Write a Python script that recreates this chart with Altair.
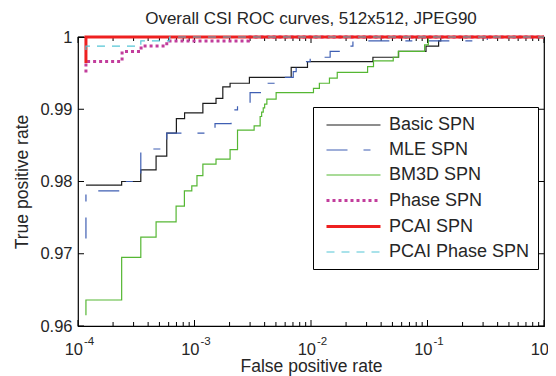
import altair as alt
import pandas as pd

# ---------------- data ----------------
series_names = ["Basic SPN", "MLE SPN", "BM3D SPN", "Phase SPN", "PCAI SPN", "PCAI Phase SPN"]

basic_fpr = [1.17e-4, 2.37e-4, 3.46e-4, 4.68e-4, 5.78e-4, 6.99e-4, 8.22e-4, 1.18e-3, 1.53e-3,
             1.75e-3, 2.02e-3, 2.96e-3, 6.76e-3, 9.33e-3, 0.0340, 0.0565, 0.0971, 0.1246, 0.130, 1.0]
basic_tpr = [0.9795, 0.9800, 0.9816, 0.9835, 0.9867, 0.9887, 0.9895, 0.9908, 0.9915,
             0.9931, 0.9936, 0.9944, 0.9958, 0.9966, 0.9972, 0.9980, 0.99875, 0.99945, 1.0, 1.0]

mle_fpr = [1.17e-4, 1.17e-4, 2.37e-4, 3.46e-4, 5.78e-4, 1.26e-3, 1.50e-3, 2.06e-3, 2.34e-3, 3.00e-3,
           3.89e-3, 5.16e-3, 7.04e-3, 7.46e-3, 8.92e-3, 9.84e-3, 0.0146, 0.0197, 0.0229, 0.326, 1.0]
mle_tpr = [0.9721, 0.9787, 0.9800, 0.9845, 0.9867, 0.9872, 0.9880, 0.9899, 0.9908, 0.9923,
           0.9936, 0.9944, 0.9952, 0.9959, 0.9966, 0.9972, 0.9980, 0.99875, 0.99945, 1.0, 1.0]

bm3d_fpr = [1.17e-4, 1.17e-4, 2.37e-4, 3.46e-4, 4.68e-4, 6.95e-4, 8.19e-4, 9.48e-4, 1.05e-3, 1.18e-3,
            1.53e-3, 2.02e-3, 2.34e-3, 3.25e-3, 3.66e-3, 3.77e-3, 3.89e-3, 4.00e-3, 4.18e-3, 5.02e-3,
            0.0105, 0.0118, 0.0144, 0.0168, 0.0306, 0.0344, 0.0508, 0.0561, 0.0944, 0.1016, 1.0]
bm3d_tpr = [0.9615, 0.9636, 0.9695, 0.9723, 0.9744, 0.9766, 0.9787, 0.9794, 0.9808, 0.9824,
            0.9831, 0.9844, 0.9871, 0.9877, 0.9890, 0.9896, 0.9902, 0.9907, 0.9914, 0.9923,
            0.9929, 0.9936, 0.9943, 0.9951, 0.9959, 0.9967, 0.9972, 0.9980, 0.9989, 1.0, 1.0]

phase_fpr = [1.17e-4, 1.17e-4, 2.39e-4, 3.48e-4, 5.78e-4, 2.90e-3, 1.0]
phase_tpr = [0.9951, 0.9966, 0.9980, 0.99875, 0.99945, 1.0, 1.0]

pcai_fpr = [1.17e-4, 1.17e-4, 1.0]
pcai_tpr = [0.9964, 1.0, 1.0]

pcai_phase_fpr = [1.17e-4, 1.17e-4, 3.46e-4, 6.1e-4, 1.0]
pcai_phase_tpr = [0.9982, 0.99875, 0.99945, 1.0, 1.0]

x_major_ticks = [1e-4, 1e-3, 1e-2, 1e-1, 1.0]
x_tick_exponents = ["-4", "-3", "-2", "-1", "0"]
x_minor_ticks = [m * 10.0 ** e for e in range(-4, 0) for m in range(2, 10)]
y_ticks = [0.96, 0.97, 0.98, 0.99, 1.0]

# ---------------- styles ----------------
colors = ["#1c1c1c", "#3f5fb3", "#55b733", "#c23d9c", "#ee2020", "#55c6d6"]
dashes = [[1, 0], [21, 16, 7, 16], [1, 0], [3, 3], [1, 0], [8, 7]]
widths = [1.2, 1.2, 1.2, 3.0, 3.0, 1.2]

W, H = 466, 289
FONT = "Liberation Sans"
TXT = "#262626"

all_fpr = [basic_fpr, mle_fpr, bm3d_fpr, phase_fpr, pcai_fpr, pcai_phase_fpr]
all_tpr = [basic_tpr, mle_tpr, bm3d_tpr, phase_tpr, pcai_tpr, pcai_phase_tpr]
rows = []
for name, xs, ys in zip(series_names, all_fpr, all_tpr):
    for i, (xv, yv) in enumerate(zip(xs, ys)):
        rows.append({"series": name, "fpr": xv, "tpr": yv, "idx": i})
df = pd.DataFrame(rows)

xscale = alt.Scale(type="log", domain=[1e-4, 1.0])
yscale = alt.Scale(domain=[0.96, 1.0], zero=False, nice=False)

# legend sample: a 54px horizontal stroke
leg = dict(title=None, orient="none", legendX=235, legendY=70,
           symbolType="M-0.556,0H5.444", symbolSize=324,
           symbolStrokeWidth=alt.ExprRef(expr="scale('strokeWidth', datum.value)"),
           labelFontSize=18, labelFont=FONT, labelColor=TXT,
           strokeColor="black", fillColor="white", padding=8, cornerRadius=0,
           labelOffset=47, labelLimit=400, rowPadding=6)

lines = alt.Chart(df).mark_line(interpolate="step-after", strokeCap="butt").encode(
    x=alt.X("fpr:Q", scale=xscale,
            axis=alt.Axis(labels=False, ticks=False, domain=False, grid=False,
                          title="False positive rate", titlePadding=31)),
    y=alt.Y("tpr:Q", scale=yscale,
            axis=alt.Axis(values=y_ticks, ticks=False, domain=False, grid=False,
                          labelExpr="datum.value == 1 ? '1' : format(datum.value, '.2f')",
                          labelPadding=6, title="True positive rate", titlePadding=8)),
    color=alt.Color("series:N", scale=alt.Scale(domain=series_names, range=colors), legend=alt.Legend(**leg)),
    strokeDash=alt.StrokeDash("series:N", scale=alt.Scale(domain=series_names, range=dashes), legend=alt.Legend(**leg)),
    strokeWidth=alt.StrokeWidth("series:N", scale=alt.Scale(type="ordinal", domain=series_names, range=widths),
                                legend=alt.Legend(**leg)),
    order=alt.Order("idx:Q"),
)

xmaj = pd.DataFrame({"fpr": x_major_ticks, "exp": x_tick_exponents})
xmin = pd.DataFrame({"fpr": x_minor_ticks})
ytk = pd.DataFrame({"tpr": y_ticks})

def xrule(d, y1, y2):
    return alt.Chart(d).mark_rule(color="black", strokeWidth=1).encode(
        x=alt.X("fpr:Q", scale=xscale), y=alt.value(y1), y2=alt.value(y2))

def yrule(x1, x2):
    return alt.Chart(ytk).mark_rule(color="black", strokeWidth=1).encode(
        y=alt.Y("tpr:Q", scale=yscale), x=alt.value(x1), x2=alt.value(x2))

ticks = [
    xrule(xmaj, H, H - 6), xrule(xmaj, 0, 6),
    xrule(xmin, H, H - 4), xrule(xmin, 0, 4),
    yrule(0, 6), yrule(W, W - 6),
]

lab10 = alt.Chart(xmaj).mark_text(text="10", font=FONT, fontSize=16.5, color=TXT,
                                  align="right", baseline="alphabetic", dx=5).encode(
    x=alt.X("fpr:Q", scale=xscale), y=alt.value(H + 29))
labexp = alt.Chart(xmaj).mark_text(font=FONT, fontSize=11.5, color=TXT,
                                   align="left", baseline="alphabetic", dx=6).encode(
    x=alt.X("fpr:Q", scale=xscale), y=alt.value(H + 19), text="exp:N")

chart = alt.layer(*ticks, lines, lab10, labexp).properties(
    width=W, height=H,
    title=alt.TitleParams("Overall CSI ROC curves, 512x512, JPEG90", font=FONT, fontSize=17,
                          fontWeight="normal", color=TXT, offset=1),
    autosize=alt.AutoSizeParams(type="none"),
    padding={"left": 70, "top": 29, "right": 4, "bottom": 52},
).configure_view(stroke="black", strokeWidth=1.2).configure_axis(
    labelFont=FONT, titleFont=FONT, labelFontSize=16.5, titleFontSize=17.5,
    labelColor=TXT, titleColor=TXT, titleFontWeight="normal",
)

chart.save("out.html", embed_options={"renderer": "svg", "actions": False})
